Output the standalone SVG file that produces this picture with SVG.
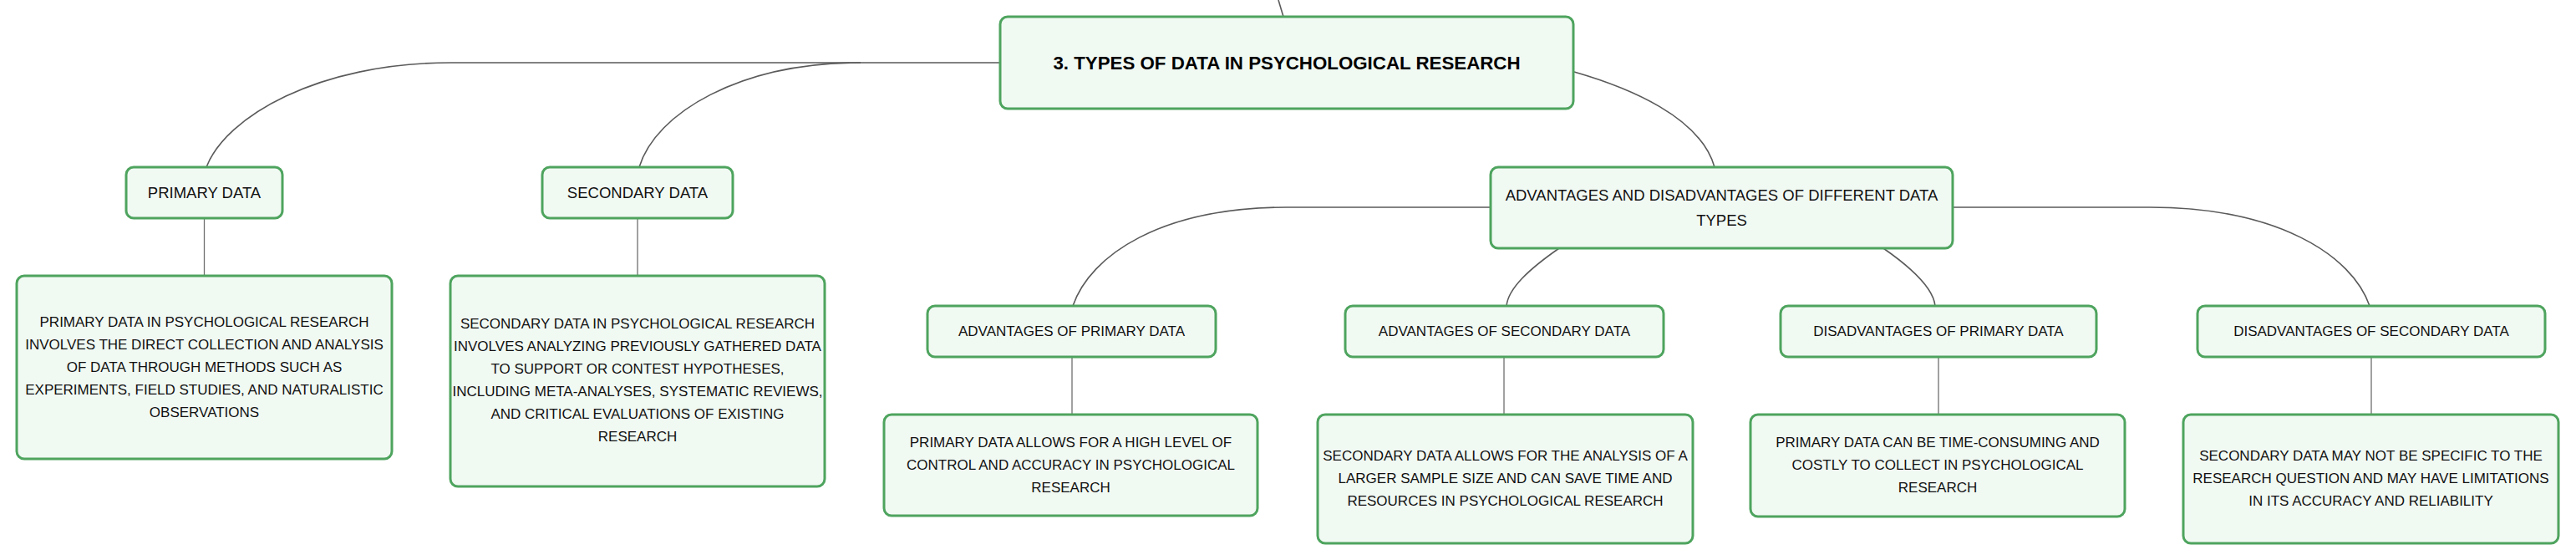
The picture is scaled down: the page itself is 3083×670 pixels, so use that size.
<svg xmlns="http://www.w3.org/2000/svg" width="3083" height="670" viewBox="0 0 3083 670">
<style>
.box{fill:#f1f9f3;stroke:#4ea45e;stroke-width:3;}
.t{font-family:"Liberation Sans",Arial,sans-serif;font-size:17px;fill:#111;text-anchor:middle;dominant-baseline:central;}
.tb{font-family:"Liberation Sans",Arial,sans-serif;font-size:22.3px;font-weight:bold;fill:#000;text-anchor:middle;dominant-baseline:central;}
.tm{font-family:"Liberation Sans",Arial,sans-serif;font-size:18.5px;fill:#111;text-anchor:middle;dominant-baseline:central;}
.c{fill:none;stroke:#5a5a5a;stroke-width:1.6;}
.v{fill:none;stroke:#6f6f6f;stroke-width:1.3;}
</style>
<rect width="3083" height="670" fill="#ffffff"/>
<g id="connectors">
<path class="c" d="M1530 0 L1536 20"/>
<path class="c" d="M1197 75 L1030 75 C885 75 785 135 765 200"/>
<path class="c" d="M1030 75 L540 75 C380 75 270 140 247 200"/>
<path class="c" d="M1884 86 C1950 105 2035 140 2052 200"/>
<path class="c" d="M1784 248 L1540 248 C1390 248 1305 305 1284 366"/>
<path class="c" d="M1866 297 C1830 322 1805 345 1803 366"/>
<path class="c" d="M2254 297 C2290 322 2314 345 2316 366"/>
<path class="c" d="M2337 248 L2573 248 C2725 248 2815 305 2836 366"/>
<path class="v" d="M244.5 261 V330"/>
<path class="v" d="M763 261 V330"/>
<path class="v" d="M1283 427 V496"/>
<path class="v" d="M1800 427 V496"/>
<path class="v" d="M2320 427 V496"/>
<path class="v" d="M2838 427 V496"/>
</g>
<g id="main">
<rect class="box" x="1197" y="20" width="686" height="110" rx="9"/>
<text class="tb" x="1540" y="75">3. TYPES OF DATA IN PSYCHOLOGICAL RESEARCH</text>
</g>
<g id="primary-data">
<rect class="box" x="151" y="200" width="187" height="61" rx="9"/>
<text class="tm" x="244.5" y="230.5">PRIMARY DATA</text>
</g>
<g id="secondary-data">
<rect class="box" x="649" y="200" width="228" height="61" rx="9"/>
<text class="tm" x="763" y="230.5">SECONDARY DATA</text>
</g>
<g id="adv-dis">
<rect class="box" x="1784" y="200" width="553" height="97" rx="9"/>
<text class="tm" x="2060.5" y="233">ADVANTAGES AND DISADVANTAGES OF DIFFERENT DATA</text>
<text class="tm" x="2060.5" y="263">TYPES</text>
</g>
<g id="adv-primary">
<rect class="box" x="1110" y="366" width="345" height="61" rx="9"/>
<text class="t" x="1282.5" y="396.5">ADVANTAGES OF PRIMARY DATA</text>
</g>
<g id="adv-secondary">
<rect class="box" x="1610" y="366" width="381" height="61" rx="9"/>
<text class="t" x="1800.5" y="396.5">ADVANTAGES OF SECONDARY DATA</text>
</g>
<g id="dis-primary">
<rect class="box" x="2131" y="366" width="378" height="61" rx="9"/>
<text class="t" x="2320" y="396.5">DISADVANTAGES OF PRIMARY DATA</text>
</g>
<g id="dis-secondary">
<rect class="box" x="2630" y="366" width="416" height="61" rx="9"/>
<text class="t" x="2838" y="396.5">DISADVANTAGES OF SECONDARY DATA</text>
</g>
<g id="primary-desc">
<rect class="box" x="20" y="330" width="449" height="219" rx="9"/>
<text class="t" x="244.5" y="385">PRIMARY DATA IN PSYCHOLOGICAL RESEARCH</text>
<text class="t" x="244.5" y="412">INVOLVES THE DIRECT COLLECTION AND ANALYSIS</text>
<text class="t" x="244.5" y="439">OF DATA THROUGH METHODS SUCH AS</text>
<text class="t" x="244.5" y="466">EXPERIMENTS, FIELD STUDIES, AND NATURALISTIC</text>
<text class="t" x="244.5" y="493">OBSERVATIONS</text>
</g>
<g id="secondary-desc">
<rect class="box" x="539" y="330" width="448" height="252" rx="9"/>
<text class="t" x="763" y="387">SECONDARY DATA IN PSYCHOLOGICAL RESEARCH</text>
<text class="t" x="763" y="414">INVOLVES ANALYZING PREVIOUSLY GATHERED DATA</text>
<text class="t" x="763" y="441">TO SUPPORT OR CONTEST HYPOTHESES,</text>
<text class="t" x="763" y="468">INCLUDING META-ANALYSES, SYSTEMATIC REVIEWS,</text>
<text class="t" x="763" y="495">AND CRITICAL EVALUATIONS OF EXISTING</text>
<text class="t" x="763" y="522">RESEARCH</text>
</g>
<g id="adv-primary-desc">
<rect class="box" x="1058" y="496" width="447" height="121" rx="9"/>
<text class="t" x="1281.5" y="529">PRIMARY DATA ALLOWS FOR A HIGH LEVEL OF</text>
<text class="t" x="1281.5" y="556">CONTROL AND ACCURACY IN PSYCHOLOGICAL</text>
<text class="t" x="1281.5" y="583">RESEARCH</text>
</g>
<g id="adv-secondary-desc">
<rect class="box" x="1577" y="496" width="449" height="154" rx="9"/>
<text class="t" x="1801.5" y="545">SECONDARY DATA ALLOWS FOR THE ANALYSIS OF A</text>
<text class="t" x="1801.5" y="572">LARGER SAMPLE SIZE AND CAN SAVE TIME AND</text>
<text class="t" x="1801.5" y="599">RESOURCES IN PSYCHOLOGICAL RESEARCH</text>
</g>
<g id="dis-primary-desc">
<rect class="box" x="2095" y="496" width="448" height="122" rx="9"/>
<text class="t" x="2319" y="529">PRIMARY DATA CAN BE TIME-CONSUMING AND</text>
<text class="t" x="2319" y="556">COSTLY TO COLLECT IN PSYCHOLOGICAL</text>
<text class="t" x="2319" y="583">RESEARCH</text>
</g>
<g id="dis-secondary-desc">
<rect class="box" x="2613" y="496" width="449" height="154" rx="9"/>
<text class="t" x="2837.5" y="545">SECONDARY DATA MAY NOT BE SPECIFIC TO THE</text>
<text class="t" x="2837.5" y="572">RESEARCH QUESTION AND MAY HAVE LIMITATIONS</text>
<text class="t" x="2837.5" y="599">IN ITS ACCURACY AND RELIABILITY</text>
</g>
</svg>
